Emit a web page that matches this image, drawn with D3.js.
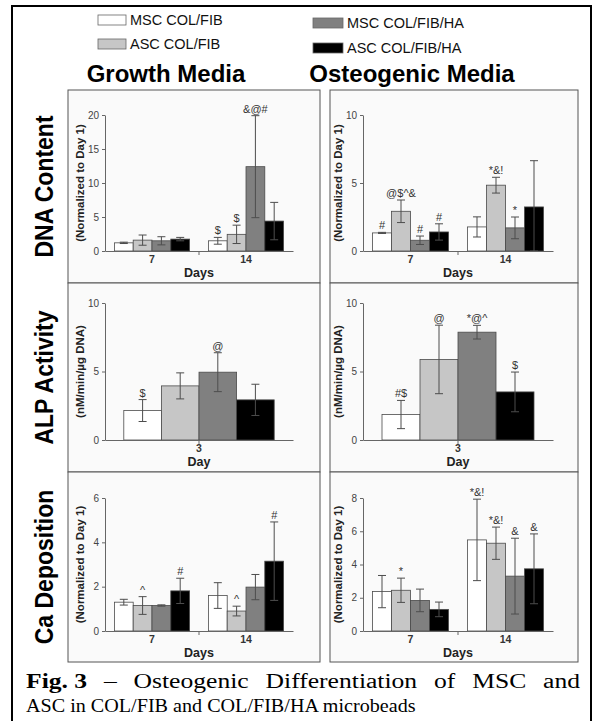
<!DOCTYPE html>
<html>
<head>
<meta charset="utf-8">
<script src="https://cdn.jsdelivr.net/npm/d3@7"></script>
<style>
  body { margin: 0; background: #fff; }
  svg { display: block; }
  text { font-family: Arial, "Liberation Sans", sans-serif; }
  text.caption { font-family: "Liberation Serif", "Times New Roman", serif; }
</style>
</head>
<body>
<svg id="fig" width="593" height="721"></svg>
<script>
// groups (legend order)
const groups = ["MSC COL/FIB", "ASC COL/FIB", "MSC COL/FIB/HA", "ASC COL/FIB/HA"];
const mediaNames = ["Growth Media", "Osteogenic Media"];
const rowNames = ["DNA Content", "ALP Activity", "Ca Deposition"];

const twoDays = ["7", "14"];
const oneDay = ["3"];

// DNA content (normalized to day 1)
const dnaGrowthMean = [[1.2, 1.6, 1.5, 1.75], [1.5, 2.45, 12.4, 4.4]];
const dnaGrowthErr  = [[0.1, 0.75, 0.6, 0.25], [0.5, 1.35, 7.5, 2.75]];
const dnaGrowthSig  = [["", "", "", ""], ["$", "$", "&@#", ""]];
const dnaOsteoMean  = [[1.33, 2.92, 0.79, 1.4], [1.77, 4.84, 1.7, 3.24]];
const dnaOsteoErr   = [[0.04, 0.83, 0.31, 0.6], [0.74, 0.58, 0.8, 3.4]];
const dnaOsteoSig   = [["#", "@$^&", "#", "#"], ["", "*&!", "*", ""]];

// ALP activity (nM/min/ug DNA), day 3
const alpGrowthMean = [[2.15, 3.95, 4.95, 2.93]];
const alpGrowthErr  = [[0.8, 0.95, 1.42, 1.14]];
const alpGrowthSig  = [["$", "", "@", ""]];
const alpOsteoMean  = [[1.86, 5.88, 7.87, 3.51]];
const alpOsteoErr   = [[1.03, 2.5, 0.5, 1.45]];
const alpOsteoSig   = [["#$", "@", "*@^", "$"]];

// Ca deposition (normalized to day 1)
const caGrowthMean = [[1.3, 1.15, 1.15, 1.81], [1.6, 0.9, 1.98, 3.15]];
const caGrowthErr  = [[0.13, 0.4, 0.03, 0.57], [0.58, 0.22, 0.57, 1.77]];
const caGrowthSig  = [["", "^", "", "#"], ["", "^", "", "#"]];
const caOsteoMean  = [[2.37, 2.45, 1.84, 1.3], [5.48, 5.28, 3.3, 3.74]];
const caOsteoErr   = [[0.97, 0.73, 0.68, 0.44], [2.45, 0.97, 2.28, 2.1]];
const caOsteoSig   = [["", "*", "", ""], ["*&!", "*&!", "&", "&"]];

// tick labels
const ticksDnaGrowth = [0, 5, 10, 15, 20];
const ticksTen = [0, 5, 10];
const ticksCaGrowth = [0, 2, 4, 6];
const ticksCaOsteo = [0, 2, 4, 6, 8];

const captionLine1 = ["Fig. 3", "–", "Osteogenic", "Differentiation", "of", "MSC", "and"];
const captionLine2 = "ASC in COL/FIB and COL/FIB/HA microbeads";

const colors = d3.scaleOrdinal().domain(groups).range(["#ffffff", "#c6c6c6", "#808080", "#000000"]);

const panels = [
  { row: 0, col: 0, days: twoDays, mean: dnaGrowthMean, err: dnaGrowthErr, sig: dnaGrowthSig, ticks: ticksDnaGrowth, yLabel: "(Normalized to Day 1)", xLabel: "Days" },
  { row: 0, col: 1, days: twoDays, mean: dnaOsteoMean, err: dnaOsteoErr, sig: dnaOsteoSig, ticks: ticksTen, yLabel: "(Normalized to Day 1)", xLabel: "Days" },
  { row: 1, col: 0, days: oneDay, mean: alpGrowthMean, err: alpGrowthErr, sig: alpGrowthSig, ticks: ticksTen, yLabel: "(nM/min/\u00b5g DNA)", xLabel: "Day" },
  { row: 1, col: 1, days: oneDay, mean: alpOsteoMean, err: alpOsteoErr, sig: alpOsteoSig, ticks: ticksTen, yLabel: "(nM/min/\u00b5g DNA)", xLabel: "Day" },
  { row: 2, col: 0, days: twoDays, mean: caGrowthMean, err: caGrowthErr, sig: caGrowthSig, ticks: ticksCaGrowth, yLabel: "(Normalized to Day 1)", xLabel: "Days" },
  { row: 2, col: 1, days: twoDays, mean: caOsteoMean, err: caOsteoErr, sig: caOsteoSig, ticks: ticksCaOsteo, yLabel: "(Normalized to Day 1)", xLabel: "Days" }
];

// layout
const cols = [
  { x0: 68, x1: 320, axisX: 105, axisEnd: 293, labX: 80, headX: 166 },
  { x0: 330, x1: 578, axisX: 363, axisEnd: 553, labX: 338, headX: 412 }
];
const rows = [
  { y0: 90, y1: 283, top: 115, zero: 251 },
  { y0: 283, y1: 472, top: 303, zero: 440 },
  { y0: 472, y1: 662, top: 498, zero: 631 }
];

const svg = d3.select("#fig");

// outer frame
svg.append("rect")
  .attr("x", 12).attr("y", 6)
  .attr("width", 579).attr("height", 740)
  .attr("fill", "none").attr("stroke", "#000").attr("stroke-width", 2);

// legend
const legendPos = [
  { x: 98, y: 15, w: 28 }, { x: 98, y: 39, w: 28 },
  { x: 313, y: 18, w: 30 }, { x: 313, y: 43, w: 30 }
];
groups.forEach((g, i) => {
  const p = legendPos[i];
  svg.append("rect")
    .attr("x", p.x).attr("y", p.y).attr("width", p.w).attr("height", 10)
    .attr("fill", colors(g)).attr("stroke", "#666").attr("stroke-width", 0.8);
  svg.append("text")
    .attr("x", p.x + p.w + 4).attr("y", p.y + 10)
    .attr("font-size", 14.5).attr("fill", "#111")
    .text(g);
});

// column headers
mediaNames.forEach((m, i) => {
  svg.append("text")
    .attr("x", cols[i].headX).attr("y", 82)
    .attr("text-anchor", "middle")
    .attr("font-size", 24).attr("font-weight", "bold")
    .text(m);
});

// row labels
rowNames.forEach((r, i) => {
  const cy = (rows[i].y0 + rows[i].y1) / 2;
  svg.append("text")
    .attr("transform", `translate(53,${cy}) rotate(-90) scale(1,1.15)`)
    .attr("text-anchor", "middle")
    .attr("font-size", 23).attr("font-weight", "bold")
    .text(r);
});

panels.forEach(p => {
  const c = cols[p.col], r = rows[p.row];

  // panel box
  svg.append("rect")
    .attr("x", c.x0).attr("y", r.y0)
    .attr("width", c.x1 - c.x0).attr("height", r.y1 - r.y0)
    .attr("fill", "#fafafa").attr("stroke", "#555").attr("stroke-width", 1);

  const y = d3.scaleLinear()
    .domain([0, d3.max(p.ticks)])
    .range([r.zero, r.top]);

  const x0 = d3.scaleBand()
    .domain(p.days)
    .range([c.axisX, c.axisEnd])
    .paddingInner(0.2)
    .paddingOuter(0.1);

  const x1 = d3.scaleBand()
    .domain(groups)
    .range([0, x0.bandwidth()]);

  const g = svg.append("g");

  // bars
  p.days.forEach((d, di) => {
    const gg = g.append("g").attr("transform", `translate(${x0(d)},0)`);
    gg.selectAll("rect")
      .data(groups)
      .enter()
      .append("rect")
      .attr("x", k => x1(k))
      .attr("y", (k, i) => y(p.mean[di][i]))
      .attr("width", x1.bandwidth())
      .attr("height", (k, i) => y(0) - y(p.mean[di][i]))
      .attr("fill", k => colors(k))
      .attr("stroke", "#4a4a4a")
      .attr("stroke-width", 0.8);

    // error bars
    groups.forEach((k, i) => {
      const cx = x1(k) + x1.bandwidth() / 2;
      const hi = p.mean[di][i] + p.err[di][i];
      const lo = Math.max(0, p.mean[di][i] - p.err[di][i]);
      const eb = gg.append("g").attr("stroke", "#4d4d4d").attr("stroke-width", 1);
      eb.append("line").attr("x1", cx).attr("x2", cx).attr("y1", y(lo)).attr("y2", y(hi));
      eb.append("line").attr("x1", cx - 4).attr("x2", cx + 4).attr("y1", y(hi)).attr("y2", y(hi));
      eb.append("line").attr("x1", cx - 4).attr("x2", cx + 4).attr("y1", y(lo)).attr("y2", y(lo));

      if (p.sig[di][i]) {
        gg.append("text")
          .attr("x", cx).attr("y", y(hi) - 3)
          .attr("text-anchor", "middle")
          .attr("font-size", 11).attr("fill", "#333")
          .text(p.sig[di][i]);
      }
    });
  });

  // y axis
  const yAxis = g.append("g")
    .attr("transform", `translate(${c.axisX},0)`)
    .call(d3.axisLeft(y).tickValues(p.ticks).tickFormat(d3.format("d"))
      .tickSize(3).tickSizeOuter(0).tickPadding(3));
  yAxis.select(".domain").attr("stroke", "#666");
  yAxis.selectAll(".tick line").attr("stroke", "#666");
  yAxis.selectAll(".tick text").attr("font-size", 10).attr("fill", "#444");

  // x axis
  const xAxis = g.append("g")
    .attr("transform", `translate(0,${y(0)})`)
    .call(d3.axisBottom(x0).tickSize(0).tickSizeOuter(0).tickPadding(5));
  xAxis.select(".domain").attr("stroke", "#666");
  xAxis.selectAll(".tick text").attr("font-size", 10.5).attr("font-weight", "bold").attr("fill", "#333");
  const mid = (c.axisX + c.axisEnd) / 2;
  g.append("line")
    .attr("x1", mid).attr("x2", mid)
    .attr("y1", y(0)).attr("y2", y(0) + 4)
    .attr("stroke", "#666");

  // axis titles
  g.append("text")
    .attr("x", mid).attr("y", y(0) + 26)
    .attr("text-anchor", "middle")
    .attr("font-size", 12.5).attr("font-weight", "bold").attr("fill", "#222")
    .text(p.xLabel);
  g.append("text")
    .attr("transform", `translate(${c.labX + 4},${(r.zero + r.top) / 2}) rotate(-90)`)
    .attr("text-anchor", "middle")
    .attr("font-size", 11.5).attr("font-weight", "bold").attr("fill", "#222")
    .text(p.yLabel);
});

// caption: first line justified, words set a little wide as in the scan
const capLeft = 26, capRight = 580, capStretch = 1.28;
const capWords = captionLine1.map((w, i) => svg.append("text")
  .attr("class", "caption")
  .attr("font-size", 20)
  .attr("font-weight", i === 0 ? "bold" : "normal")
  .text(w));
const widths = capWords.map(t => t.node().getComputedTextLength() * capStretch);
const gap = (capRight - capLeft - d3.sum(widths)) / (capWords.length - 1);
let cx = capLeft;
capWords.forEach((t, i) => {
  t.attr("transform", `translate(${cx},688) scale(${capStretch},1)`);
  cx += widths[i] + gap;
});
svg.append("text")
  .attr("class", "caption")
  .attr("transform", `translate(${capLeft},712) scale(1.06,1)`)
  .attr("font-size", 19)
  .text(captionLine2);
</script>
</body>
</html>
